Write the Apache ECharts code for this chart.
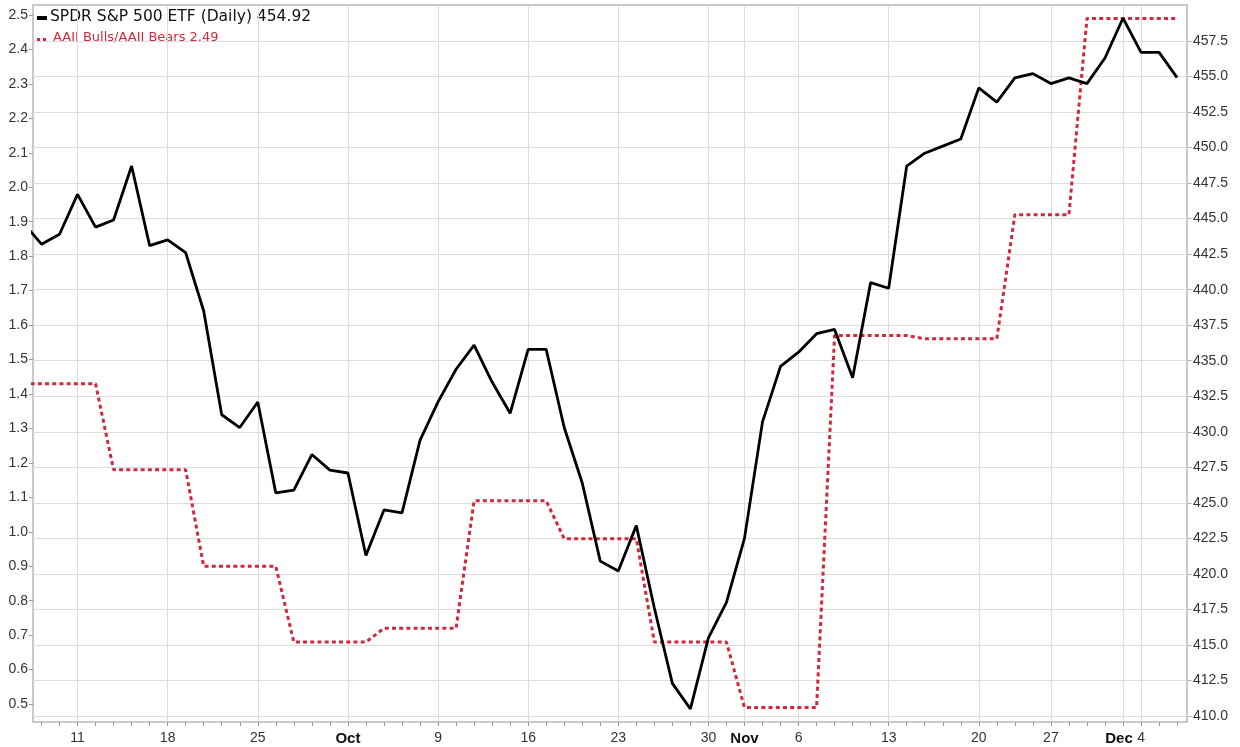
<!DOCTYPE html>
<html>
<head>
<meta charset="utf-8">
<title>SPDR S&amp;P 500 ETF vs AAII Bulls/Bears</title>
<script src="https://cdn.jsdelivr.net/npm/echarts@6/dist/echarts.min.js"></script>
<style>
  html, body { margin: 0; padding: 0; background: #fff; }
  #chart { width: 1240px; height: 747px; }
</style>
</head>
<body>
<div id="chart"></div>
<script>
// trading days (Sep 6 sits just left of the plot edge and gets clipped)
const dates = [
  '2023-09-06', '2023-09-07', '2023-09-08',
  '2023-09-11', '2023-09-12', '2023-09-13', '2023-09-14', '2023-09-15',
  '2023-09-18', '2023-09-19', '2023-09-20', '2023-09-21', '2023-09-22',
  '2023-09-25', '2023-09-26', '2023-09-27', '2023-09-28', '2023-09-29',
  '2023-10-02', '2023-10-03', '2023-10-04', '2023-10-05', '2023-10-06',
  '2023-10-09', '2023-10-10', '2023-10-11', '2023-10-12', '2023-10-13',
  '2023-10-16', '2023-10-17', '2023-10-18', '2023-10-19', '2023-10-20',
  '2023-10-23', '2023-10-24', '2023-10-25', '2023-10-26', '2023-10-27',
  '2023-10-30', '2023-10-31', '2023-11-01', '2023-11-02', '2023-11-03',
  '2023-11-06', '2023-11-07', '2023-11-08', '2023-11-09', '2023-11-10',
  '2023-11-13', '2023-11-14', '2023-11-15', '2023-11-16', '2023-11-17',
  '2023-11-20', '2023-11-21', '2023-11-22', '2023-11-24',
  '2023-11-27', '2023-11-28', '2023-11-29', '2023-11-30', '2023-12-01',
  '2023-12-04', '2023-12-05', '2023-12-06'
]

// SPY daily close (right axis)
const spy = [
  444.7, 443.2, 443.9,
  446.7, 444.4, 444.9, 448.7, 443.1,
  443.5, 442.6, 438.5, 431.2, 430.3,
  432.1, 425.7, 425.9, 428.4, 427.3,
  427.1, 421.3, 424.5, 424.3, 429.4,
  432.1, 434.4, 436.1, 433.5, 431.3,
  435.8, 435.8, 430.3, 426.4, 420.9,
  420.2, 423.4, 417.6, 412.3, 410.5,
  415.5, 418.0, 422.5, 430.7, 434.6,
  435.6, 436.9, 437.2, 433.8, 440.5,
  440.1, 448.7, 449.6, 450.1, 450.6,
  454.2, 453.2, 454.9, 455.2,
  454.5, 454.9, 454.5, 456.3, 459.1,
  456.7, 456.7, 454.92
]

// AAII bulls / bears ratio (left axis)
const aaii = [
  1.43, 1.43, 1.43,
  1.43, 1.43, 1.18, 1.18, 1.18,
  1.18, 1.18, 0.90, 0.90, 0.90,
  0.90, 0.90, 0.68, 0.68, 0.68,
  0.68, 0.68, 0.72, 0.72, 0.72,
  0.72, 0.72, 1.09, 1.09, 1.09,
  1.09, 1.09, 0.98, 0.98, 0.98,
  0.98, 0.98, 0.68, 0.68, 0.68,
  0.68, 0.68, 0.49, 0.49, 0.49,
  0.49, 0.49, 1.57, 1.57, 1.57,
  1.57, 1.57, 1.56, 1.56, 1.56,
  1.56, 1.56, 1.92, 1.92,
  1.92, 1.92, 2.49, 2.49, 2.49,
  2.49, 2.49, 2.49
]

const xTickDates = ['2023-09-11', '2023-09-18', '2023-09-25', '2023-10-02', '2023-10-09', '2023-10-16',
  '2023-10-23', '2023-10-30', '2023-11-01', '2023-11-06', '2023-11-13', '2023-11-20', '2023-11-27',
  '2023-12-01', '2023-12-04']
const xTickLabels = ['11', '18', '25', 'Oct', '9', '16', '23', '30', 'Nov', '6', '13', '20', '27', 'Dec', '4']
const leftTicks = [0.5, 0.6, 0.7, 0.8, 0.9, 1.0, 1.1, 1.2, 1.3, 1.4, 1.5, 1.6, 1.7, 1.8, 1.9, 2.0, 2.1, 2.2, 2.3, 2.4, 2.5]
const rightTicks = [410, 412.5, 415, 417.5, 420, 422.5, 425, 427.5, 430, 432.5, 435, 437.5, 440, 442.5,
  445, 447.5, 450, 452.5, 455, 457.5]

const spyName = 'SPDR S&P 500 ETF (Daily)'
const aaiiName = 'AAII Bulls/AAII Bears'

// visible ranges of the plot box
const X_MIN = 0.53, X_MAX = 64.55
const LEFT_MIN = 0.448, LEFT_MAX = 2.529
const RIGHT_MIN = 409.58, RIGHT_MAX = 460.03

const gridBox = { left: 33, top: 5, right: 53, bottom: 25 }
const labelFont = { fontFamily: 'Liberation Sans, Arial, sans-serif', fontSize: 14, color: '#333' }
const legendFont = '"DejaVu Sans", Verdana, sans-serif'

const xTickIdx = xTickDates.map((d) => dates.indexOf(d))
const xLabelMap = {}
xTickIdx.forEach((idx, k) => { xLabelMap[idx] = xTickLabels[k] })

const chart = echarts.init(document.getElementById('chart'), null, { renderer: 'canvas' })

const option = {
  animation: false,
  backgroundColor: '#fff',
  grid: [
    { ...gridBox, show: true, borderColor: '#b8b8b8', borderWidth: 1.5, backgroundColor: 'transparent' },
    { ...gridBox, show: false }
  ],
  xAxis: [
    {
      type: 'value',
      gridIndex: 0,
      min: X_MIN,
      max: X_MAX,
      axisLine: { show: false },
      axisTick: { show: false, customValues: xTickIdx },
      splitLine: { show: true, lineStyle: { color: '#dcdcdc', width: 1 } },
      axisLabel: {
        customValues: xTickIdx,
        margin: 9,
        ...labelFont,
        formatter: (v) => {
          const t = xLabelMap[Math.round(v)] || ''
          if (t === 'Dec') return '{d|' + t + '}'
          if (/^[A-Z]/.test(t)) return '{b|' + t + '}'
          return t
        },
        rich: {
          b: { fontFamily: 'Liberation Sans, Arial, sans-serif', fontSize: 15, fontWeight: 'bold', color: '#111' },
          d: { fontFamily: 'Liberation Sans, Arial, sans-serif', fontSize: 15, fontWeight: 'bold', color: '#111', padding: [0, 8, 0, 0] }
        }
      }
    },
    {
      // daily tick marks along the bottom
      type: 'value',
      gridIndex: 1,
      min: X_MIN,
      max: X_MAX,
      axisLine: { show: false },
      axisTick: { show: true, customValues: dates.map((d, i) => i), length: 4, lineStyle: { color: '#999' } },
      axisLabel: { show: false },
      splitLine: { show: false }
    }
  ],
  yAxis: [
    {
      type: 'value',
      gridIndex: 0,
      position: 'left',
      min: LEFT_MIN,
      max: LEFT_MAX,
      axisLine: { show: false },
      axisTick: { show: true, customValues: leftTicks, length: 4, lineStyle: { color: '#999' } },
      splitLine: { show: false },
      axisLabel: { customValues: leftTicks, margin: 5, ...labelFont, formatter: (v) => v.toFixed(1) }
    },
    {
      type: 'value',
      gridIndex: 0,
      position: 'right',
      min: RIGHT_MIN,
      max: RIGHT_MAX,
      axisLine: { show: false },
      axisTick: { show: true, customValues: rightTicks, length: 5, lineStyle: { color: '#bbb' } },
      splitLine: { show: true, lineStyle: { color: '#dcdcdc', width: 1 } },
      axisLabel: { customValues: rightTicks, margin: 6, ...labelFont, formatter: (v) => v.toFixed(1) }
    },
    { type: 'value', gridIndex: 1, show: false, min: 0, max: 1 }
  ],
  series: [
    {
      name: aaiiName,
      type: 'line',
      xAxisIndex: 0,
      yAxisIndex: 0,
      data: aaii.map((v, i) => [i, v]),
      symbol: 'none',
      clip: true,
      lineStyle: { color: '#d0283c', width: 3, type: [4, 3.2] },
      z: 2
    },
    {
      name: spyName,
      type: 'line',
      xAxisIndex: 0,
      yAxisIndex: 1,
      data: spy.map((v, i) => [i, v]),
      symbol: 'none',
      clip: true,
      lineStyle: { color: '#000', width: 2.8 },
      z: 3
    }
  ],
  // legend block in the top-left corner of the plot
  graphic: [
    { type: 'rect', left: 37, top: 16, shape: { width: 10, height: 4 }, style: { fill: '#000' } },
    {
      type: 'text', left: 50, top: 9,
      style: { text: spyName + ' ' + spy[spy.length - 1].toFixed(2), fill: '#111', font: '15.5px ' + legendFont }
    },
    { type: 'rect', left: 37, top: 38, shape: { width: 3, height: 3 }, style: { fill: '#d0283c' } },
    { type: 'rect', left: 43, top: 38, shape: { width: 3, height: 3 }, style: { fill: '#d0283c' } },
    {
      type: 'text', left: 53, top: 31,
      style: { text: aaiiName + ' ' + aaii[aaii.length - 1].toFixed(2), fill: '#d0283c', font: '13px ' + legendFont }
    }
  ]
}

chart.setOption(option)
</script>
</body>
</html>
